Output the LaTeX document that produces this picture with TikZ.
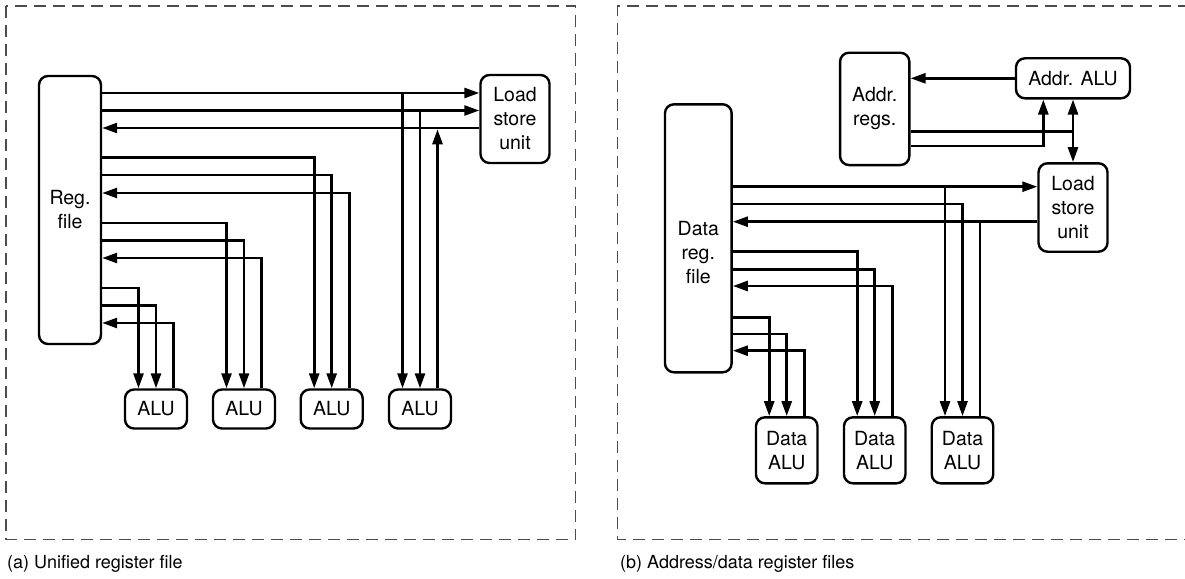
\documentclass[tikz,border=0pt]{standalone}
\usepackage{fontspec}
\setmainfont{TeX Gyre Heros}
\usetikzlibrary{arrows.meta}

\begin{document}
\begin{tikzpicture}[x=1pt, y=-1pt,
    unit/.style={draw, line width=2.4pt, rounded corners=9pt, inner sep=0pt,
        align=center, font=\fontsize{19.5}{24}\selectfont},
    txt/.style={inner sep=0pt, align=center, font=\fontsize{19.5}{24}\selectfont},
    wire/.style={line width=2.6pt},
    arr/.style={-{Triangle[length=15pt,width=10pt]}},
    frame/.style={line width=1.5pt, dash pattern=on 12pt off 7pt, black!70},
    caption/.style={anchor=base west, inner sep=0pt, font=\fontsize{18}{22}\selectfont}
]
    \useasboundingbox (0,0) rectangle (1185,578);

    % (a) unified register file
    \draw[frame] (6,6) rectangle (575.5,539.5);
    \node[caption] (capa) at (7,568) {(a) Unified register file};

    \node[unit, minimum width=62pt, minimum height=268pt] (reg) at (70,210) {Reg.\\file};
    \node[unit, minimum width=69pt, minimum height=88pt] (ls) at (515,119) {Load\\store\\unit};
    \node[unit, minimum width=62pt, minimum height=39pt] (alu1) at (156,409) {ALU};
    \node[unit, minimum width=62pt, minimum height=39pt] (alu2) at (244,409) {ALU};
    \node[unit, minimum width=62pt, minimum height=39pt] (alu3) at (331.7,409) {ALU};
    \node[unit, minimum width=62pt, minimum height=39pt] (alu4) at (420,409) {ALU};

    \coordinate (r1) at (reg.east |- 0,93);
    \coordinate (r2) at (reg.east |- 0,110.5);
    \coordinate (r3) at (reg.east |- 0,128);
    \coordinate (r4) at (reg.east |- 0,157.5);
    \coordinate (r5) at (reg.east |- 0,175);
    \coordinate (r6) at (reg.east |- 0,193);
    \coordinate (r7) at (reg.east |- 0,223);
    \coordinate (r8) at (reg.east |- 0,240.5);
    \coordinate (r9) at (reg.east |- 0,258);
    \coordinate (r10) at (reg.east |- 0,288);
    \coordinate (r11) at (reg.east |- 0,305.5);
    \coordinate (r12) at (reg.east |- 0,323);

    \coordinate (a1i) at ([xshift=-17.5pt]alu1.north);
    \coordinate (a1o) at ([xshift=17.5pt]alu1.north);
    \coordinate (a2i) at ([xshift=-17.5pt]alu2.north);
    \coordinate (a2o) at ([xshift=17.5pt]alu2.north);
    \coordinate (a3i) at ([xshift=-17.5pt]alu3.north);
    \coordinate (a3o) at ([xshift=17.5pt]alu3.north);
    \coordinate (a4i) at ([xshift=-17.5pt]alu4.north);
    \coordinate (a4o) at ([xshift=17.5pt]alu4.north);

    % load store unit
    \draw[wire,arr] (r1) -- (r1 -| ls.west);
    \draw[wire,arr] (r2) -- (r2 -| ls.west);
    \draw[wire,arr] (r3 -| ls.west) -- (r3);
    \draw[wire,arr] (a4i |- r1) -- (a4i);
    \draw[wire,arr] (alu4.north |- r2) -- (alu4.north);
    \draw[wire,arr,shorten >=1.3pt] (a4o) -- (a4o |- r3);

    % alus
    \draw[wire,arr] (r4) -| (a3i);
    \draw[wire,arr] (r5) -| (alu3.north);
    \draw[wire,arr] (a3o) |- (r6);
    \draw[wire,arr] (r7) -| (a2i);
    \draw[wire,arr] (r8) -| (alu2.north);
    \draw[wire,arr] (a2o) |- (r9);
    \draw[wire,arr] (r10) -| (a1i);
    \draw[wire,arr] (r11) -| (alu1.north);
    \draw[wire,arr] (a1o) |- (r12);

    % (b) address/data register files
    \draw[frame] (1190,6) -- (617.7,6) -- (617.7,539.5) -- (1190,539.5);
    \node[caption] (capb) at (620,568) {(b) Address/data register files};

    \node[unit, minimum width=66.7pt, minimum height=268pt] (dreg) at (698.3,238.3) {};
    \node[txt] (dregtext) at ([yshift=-14pt]dreg.center) {Data\\reg.\\file};
    \node[unit, minimum width=69.3pt, minimum height=112.3pt] (areg) at (874.7,108.9) {Addr.\\regs.};
    \node[unit, minimum width=114pt, minimum height=40pt] (aalu) at (1073,78.3) {Addr. ALU};
    \node[unit, minimum width=69pt, minimum height=88.4pt] (rls) at (1073,207.5) {Load\\store\\unit};
    \node[unit, minimum width=61.5pt, minimum height=66pt] (dalu1) at (786.7,450.3) {Data\\ALU};
    \node[unit, minimum width=61.5pt, minimum height=66pt] (dalu2) at (874.7,450.3) {Data\\ALU};
    \node[unit, minimum width=61.5pt, minimum height=66pt] (dalu3) at (962.5,450.3) {Data\\ALU};

    \coordinate (q1) at (dreg.east |- 0,186.7);
    \coordinate (q2) at (dreg.east |- 0,204);
    \coordinate (q3) at (dreg.east |- 0,221.7);
    \coordinate (q4) at (dreg.east |- 0,251.7);
    \coordinate (q5) at (dreg.east |- 0,269.3);
    \coordinate (q6) at (dreg.east |- 0,286);
    \coordinate (q7) at (dreg.east |- 0,317.3);
    \coordinate (q8) at (dreg.east |- 0,334);
    \coordinate (q9) at (dreg.east |- 0,350.7);

    \coordinate (d1i) at ([xshift=-17.5pt]dalu1.north);
    \coordinate (d1o) at ([xshift=17.5pt]dalu1.north);
    \coordinate (d2i) at ([xshift=-17.5pt]dalu2.north);
    \coordinate (d2o) at ([xshift=17.5pt]dalu2.north);
    \coordinate (d3i) at ([xshift=-17.5pt]dalu3.north);
    \coordinate (d3o) at ([xshift=17.5pt]dalu3.north);

    % address side
    \coordinate (p1) at (areg.east |- 0,131.7);
    \coordinate (p2) at (areg.east |- 0,146);
    \coordinate (aa) at ([xshift=-29.7pt]aalu.south);
    \draw[wire,arr] (aalu.west) -- (aalu.west -| areg.east);
    \draw[wire] (p1) -- (p1 -| aalu.south);
    \draw[wire,arr] (p2) -| (aa);
    \draw[wire,{Triangle[length=15pt,width=10pt]}-{Triangle[length=15pt,width=10pt]}]
        (aalu.south) -- (rls.north);

    % load store unit
    \draw[wire,arr] (q1) -- (q1 -| rls.west);
    \draw[wire,arr] (q3 -| rls.west) -- (q3);
    \draw[wire,arr] (d3i |- q1) -- (d3i);
    \draw[wire,arr] (q2) -| (dalu3.north);
    \draw[wire] (d3o) -- (d3o |- q3);

    % data alus
    \draw[wire,arr] (q4) -| (d2i);
    \draw[wire,arr] (q5) -| (dalu2.north);
    \draw[wire,arr] (d2o) |- (q6);
    \draw[wire,arr] (q7) -| (d1i);
    \draw[wire,arr] (q8) -| (dalu1.north);
    \draw[wire,arr] (d1o) |- (q9);
\end{tikzpicture}
\end{document}
